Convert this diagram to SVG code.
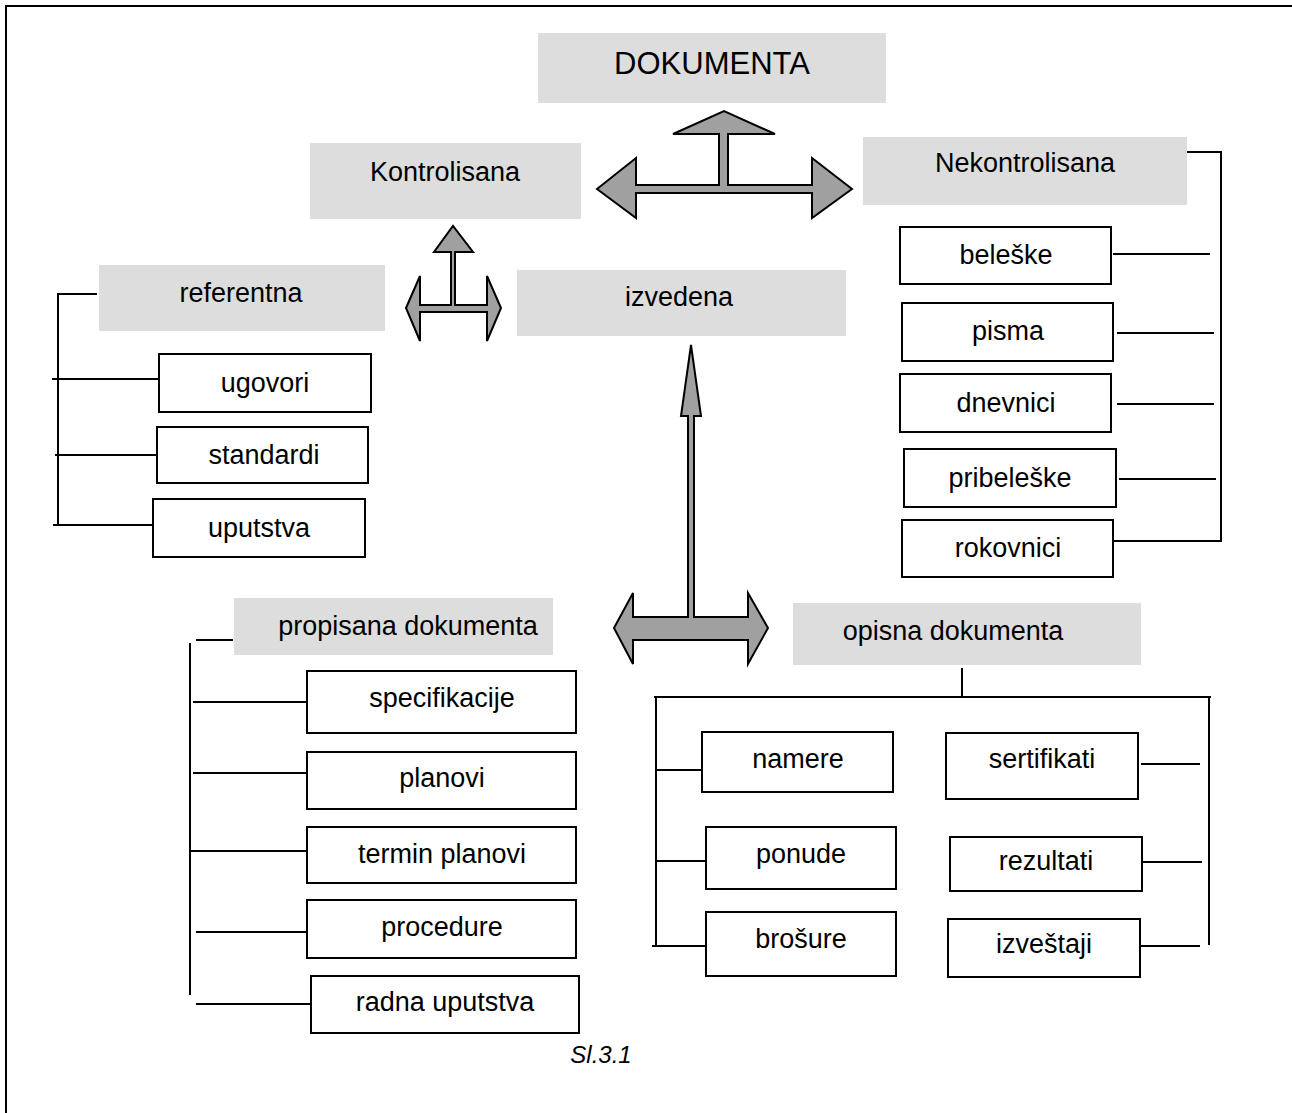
<svg xmlns="http://www.w3.org/2000/svg" width="1292" height="1113" viewBox="0 0 1292 1113">
<style>
.g{fill:#dddddd;stroke:none}
.b{fill:#ffffff;stroke:#000;stroke-width:2}
.t{font-family:"Liberation Sans",Arial,sans-serif;font-size:27px;fill:#000;text-anchor:middle}
.big{font-size:31px}
.l{stroke:#000;stroke-width:2;fill:none}
.a{fill:#a0a0a0;stroke:#000;stroke-width:2;stroke-linejoin:miter}
.cap{font-family:"Liberation Sans",Arial,sans-serif;font-size:24px;font-style:italic;text-anchor:middle}
</style>
<rect x="0" y="0" width="1292" height="1113" fill="#fff"/>
<path class="l" d="M6,1113 V6 H1292" stroke-width="3"/>

<g id="connectors">
<polygon class="a" points="597,189 636,158 636,185 719,185 719,134 673,134 724,111 775,134 728,134 728,185 812,185 812,158 852,189 812,218 812,193 636,193 636,218"/>
<polygon class="a" points="406,308 420,276 420,305 451,305 451,252 434,252 453,226 473,252 455,252 455,305 487,305 487,276 501,308 487,341 487,312 420,312 420,341"/>
<polygon class="a" points="614,628 633,593 633,617 688,617 688,416 681,416 691,345 701,416 694,416 694,617 748,617 748,593 768,628 748,664 748,640 633,640 633,664"/>
<!-- referentna bracket -->
<path class="l" d="M58,293 V525"/>
<path class="l" d="M58,294 H97"/>
<path class="l" d="M52,379 H159"/>
<path class="l" d="M55,455 H157"/>
<path class="l" d="M53,525 H153"/>
<!-- nekontrolisana bracket -->
<path class="l" d="M1187,152 H1221 V541 H1113"/>
<path class="l" d="M1113,254 H1210"/>
<path class="l" d="M1117,333 H1214"/>
<path class="l" d="M1117,404 H1214"/>
<path class="l" d="M1119,479 H1216"/>
<!-- propisana bracket -->
<path class="l" d="M190,643 V995"/>
<path class="l" d="M196,640 H233"/>
<path class="l" d="M193,702 H307"/>
<path class="l" d="M193,773 H307"/>
<path class="l" d="M190,851 H307"/>
<path class="l" d="M196,932 H307"/>
<path class="l" d="M196,1004 H311"/>
<!-- opisna bracket -->
<path class="l" d="M962,668 V696"/>
<path class="l" d="M654,697 H1211"/>
<path class="l" d="M656,697 V945"/>
<path class="l" d="M1209,697 V945"/>
<path class="l" d="M656,770 H702"/>
<path class="l" d="M656,861 H706"/>
<path class="l" d="M652,946 H706"/>
<path class="l" d="M1141,764 H1200"/>
<path class="l" d="M1143,862 H1202"/>
<path class="l" d="M1141,946 H1200"/>
</g>

<g id="dokumenta"><rect class="g" x="538" y="33" width="348" height="70"/><text class="t big" x="712" y="74">DOKUMENTA</text></g>
<g id="kontrolisana"><rect class="g" x="310" y="143" width="271" height="76"/><text class="t" x="445" y="181">Kontrolisana</text></g>
<g id="nekontrolisana"><rect class="g" x="863" y="137" width="324" height="68"/><text class="t" x="1025" y="172">Nekontrolisana</text></g>
<g id="referentna"><rect class="g" x="99" y="265" width="286" height="66"/><text class="t" x="241" y="302">referentna</text></g>
<g id="izvedena"><rect class="g" x="517" y="270" width="329" height="66"/><text class="t" x="679" y="306">izvedena</text></g>
<g id="propisana"><rect class="g" x="234" y="598" width="319" height="57"/><text class="t" x="408" y="635">propisana dokumenta</text></g>
<g id="opisna"><rect class="g" x="793" y="603" width="348" height="62"/><text class="t" x="953" y="640">opisna dokumenta</text></g>

<g id="ugovori"><rect class="b" x="159" y="354" width="212" height="58"/><text class="t" x="265" y="392">ugovori</text></g>
<g id="standardi"><rect class="b" x="157" y="427" width="211" height="56"/><text class="t" x="264" y="464">standardi</text></g>
<g id="uputstva"><rect class="b" x="153" y="499" width="212" height="58"/><text class="t" x="259" y="537">uputstva</text></g>

<g id="beleske"><rect class="b" x="900" y="227" width="211" height="57"/><text class="t" x="1006" y="264">beleške</text></g>
<g id="pisma"><rect class="b" x="902" y="303" width="211" height="58"/><text class="t" x="1008" y="340">pisma</text></g>
<g id="dnevnici"><rect class="b" x="900" y="374" width="211" height="58"/><text class="t" x="1006" y="412">dnevnici</text></g>
<g id="pribeleske"><rect class="b" x="904" y="449" width="212" height="58"/><text class="t" x="1010" y="487">pribeleške</text></g>
<g id="rokovnici"><rect class="b" x="902" y="520" width="211" height="57"/><text class="t" x="1008" y="557">rokovnici</text></g>

<g id="specifikacije"><rect class="b" x="307" y="671" width="269" height="62"/><text class="t" x="442" y="707">specifikacije</text></g>
<g id="planovi"><rect class="b" x="307" y="752" width="269" height="57"/><text class="t" x="442" y="787">planovi</text></g>
<g id="termin"><rect class="b" x="307" y="827" width="269" height="56"/><text class="t" x="442" y="863">termin planovi</text></g>
<g id="procedure"><rect class="b" x="307" y="900" width="269" height="58"/><text class="t" x="442" y="936">procedure</text></g>
<g id="radna"><rect class="b" x="311" y="976" width="268" height="57"/><text class="t" x="445" y="1011">radna uputstva</text></g>

<g id="namere"><rect class="b" x="702" y="732" width="191" height="60"/><text class="t" x="798" y="768">namere</text></g>
<g id="ponude"><rect class="b" x="706" y="827" width="190" height="62"/><text class="t" x="801" y="863">ponude</text></g>
<g id="brosure"><rect class="b" x="706" y="912" width="190" height="64"/><text class="t" x="801" y="948">brošure</text></g>
<g id="sertifikati"><rect class="b" x="946" y="733" width="192" height="66"/><text class="t" x="1042" y="768">sertifikati</text></g>
<g id="rezultati"><rect class="b" x="950" y="837" width="192" height="54"/><text class="t" x="1046" y="870">rezultati</text></g>
<g id="izvestaji"><rect class="b" x="948" y="919" width="192" height="58"/><text class="t" x="1044" y="953">izveštaji</text></g>

<text class="cap" x="601" y="1063">Sl.3.1</text>
</svg>
